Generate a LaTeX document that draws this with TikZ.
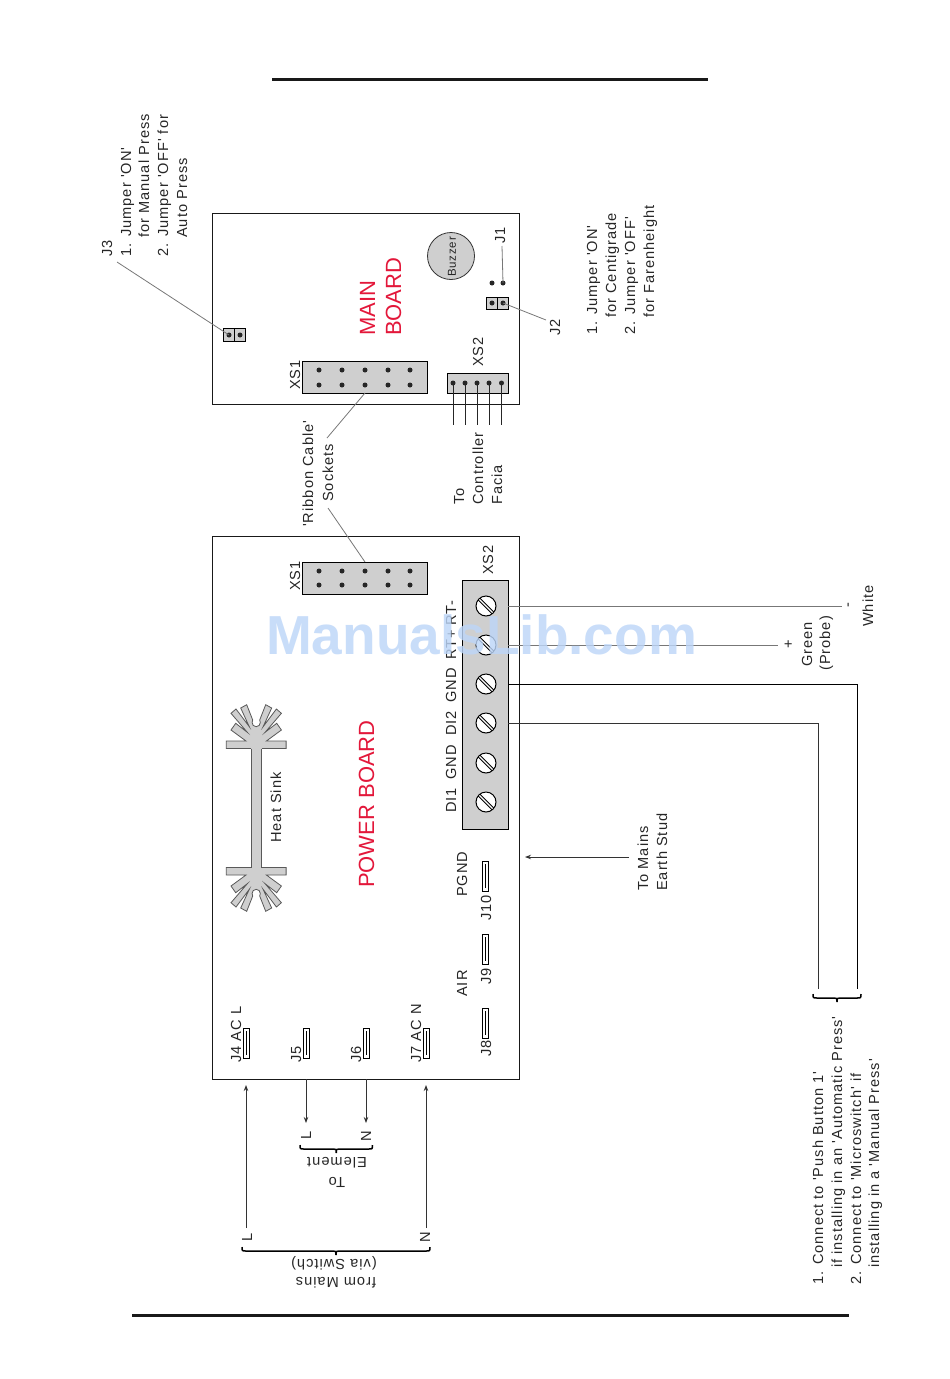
\documentclass[tikz,border=0pt]{standalone}
\usepackage{fontspec}
\setmainfont{Liberation Sans}
\newfontfamily\lsp[LetterSpace=7]{Liberation Sans}
\usetikzlibrary{arrows.meta,calc}
\definecolor{partgray}{HTML}{CFCFCF}
\definecolor{leadgray}{HTML}{777777}
\definecolor{boardred}{HTML}{E3173A}
\definecolor{wmblue}{HTML}{BDD6F8}
\tikzset{
  rt/.style={rotate=90,anchor=base west,inner sep=0pt,font=\lsp\fontsize{14.6}{17}\selectfont,text=black!85},
  rtc/.style={rotate=90,anchor=center,inner sep=0pt,font=\lsp\fontsize{14.6}{17}\selectfont,text=black!85},
  upside/.style={rotate=180,anchor=base,inner sep=0pt,font=\lsp\fontsize{14.6}{17}\selectfont,text=black!85},
  redtxt/.style={rotate=90,anchor=base west,inner sep=0pt,font=\fontsize{22}{25}\selectfont,text=boardred},
  board/.style={draw=black!90,line width=.9pt,fill=white},
  part/.style={draw=black,line width=.8pt,fill=partgray},
  pinpt/.style={circle,fill=black!85,inner sep=0pt,minimum size=5pt},
  lead/.style={draw=leadgray,line width=.8pt},
  wire/.style={draw=black!70,line width=1pt},
  arr/.style={draw=black!80,line width=.9pt,-{Stealth[length=6pt,width=4.5pt]}},
  jack/.style={draw=black,line width=.8pt,fill=white},
  screw/.style={circle,draw=black,line width=1pt,fill=white,inner sep=0pt,minimum size=20pt},
  brc/.style={draw=black,line width=1.5pt},
  sink/.style={draw=black!65,line width=.8pt,fill=partgray},
}
\newcommand{\hbr}[3]{\draw[brc] (#1,#3-4) .. controls (#1,#3) and (#1,#3) .. ({#1+4},#3) -- ({(#1+#2)/2-3},#3) .. controls ({(#1+#2)/2},#3) and ({(#1+#2)/2},#3) .. ({(#1+#2)/2},#3+4) .. controls ({(#1+#2)/2},#3) and ({(#1+#2)/2},#3) .. ({(#1+#2)/2+3},#3) -- ({#2-4},#3) .. controls (#2,#3) and (#2,#3) .. (#2,#3-4);}
\newcommand{\sinkcap}{%
  \path[sink] (-29.9,0) -- (-10.2,0) -- (-25.2,-11) -- (-20.5,-17.7) -- (-8.9,-8.7) -- (-25.2,-27.7) -- (-20.2,-32) -- (-6.9,-14.3) -- (-15.5,-33) -- (-9.5,-36.3) -- (-3.5,-21) -- (-4.1,-18.5) -- (-3,-15.6) -- (0,-14.3) -- (3,-15.6) -- (4.1,-18.5) -- (3.5,-21) -- (9.5,-36.3) -- (15.5,-33) -- (6.9,-14.3) -- (20.2,-32) -- (25.2,-27.7) -- (8.9,-8.7) -- (20.5,-17.7) -- (25.2,-11) -- (10.2,0) -- (29.9,0) -- (29.9,7.5) -- (-29.9,7.5) -- cycle;}
\begin{document}
\begin{tikzpicture}[x=1pt,y=-1pt]
\useasboundingbox (0,0) rectangle (950,1379);
% page rules
\coordinate (t1) at (272,79); \coordinate (t2) at (708,79);
\coordinate (b1) at (132,1315); \coordinate (b2) at (849,1315);
\draw[line width=3pt,black!90] (t1) -- (t2);
\draw[line width=3pt,black!90] (b1) -- (b2);
% boards
\path[board] (212,213) rectangle (519,404);
\path[board] (212,536) rectangle (519,1079);
% MAIN board parts
\node[redtxt] (mainlbl) at (375,336) {MAIN};
\node[redtxt] (boardlbl) at (401,336) {BOARD};
\node[circle,draw=black!80,line width=.8pt,fill=partgray,minimum size=47pt,inner sep=0pt] (buzz) at (451,256) {};
\node[rtc,font=\lsp\fontsize{11.5}{14}\selectfont] (buzzt) at (452,257) {Buzzer};
\path[part] (302,361) rectangle (427,393);
\path[part] (302,562) rectangle (427,594);
\foreach \px [count=\i] in {319,342,365,388,410}{
  \node[pinpt] (ma\i) at (\px,370) {};
  \node[pinpt] (mb\i) at (\px,385) {};
  \node[pinpt] (pa\i) at (\px,571) {};
  \node[pinpt] (pb\i) at (\px,585) {};
}
\node[rt] (xs1m) at (300,390) {XS1};
\node[rt] (xs1p) at (300,591) {XS1};
\path[part] (447,373) rectangle (508,393);
\node[rt] (xs2m) at (483,367) {XS2};
\foreach \px [count=\i] in {453,465,477,489,501.5}{
  \node[pinpt] (c\i) at (\px,383) {};
  \coordinate (ce\i) at (\px,425);
  \draw[line width=.9pt,black!85] (c\i.center) -- (ce\i);
}
% J1 J2 J3
\node[pinpt] (j1a) at (492,283) {};
\node[pinpt] (j1b) at (503,283) {};
\node[rt] (j1t) at (505,244) {J1};
\coordinate (j1e) at (502,246);
\draw[lead] (j1b.center) -- (j1e);
\path[part] (486,297) rectangle (508,309);
\draw[line width=.8pt] (497,297) -- (497,309);
\node[pinpt] (j2a) at (492,303) {};
\node[pinpt] (j2b) at (503,303) {};
\coordinate (j2e) at (546,320);
\draw[lead] (j2b.center) -- (j2e);
\node[rt] (j2t) at (560,336) {J2};
\path[part] (223,328) rectangle (245,341);
\draw[line width=.8pt] (234,328) -- (234,341);
\node[pinpt] (j3a) at (229,335) {};
\node[pinpt] (j3b) at (240,335) {};
\coordinate (j3e) at (117,262);
\draw[lead] (j3a.center) -- (j3e);
\node[rt] (j3t) at (112,257) {J3};
% notes top
\node[rt] (n1) at (131,257) {1. Jumper 'ON'};
\node[rt] (n2) at (149,238) {for Manual Press};
\node[rt] (n3) at (168,257) {2. Jumper 'OFF' for};
\node[rt] (n4) at (187,238) {Auto Press};
\node[rt] (n5) at (597,335) {1. Jumper 'ON'};
\node[rt] (n6) at (616,318) {for Centigrade};
\node[rt] (n7) at (635,335) {2. Jumper 'OFF'};
\node[rt] (n8) at (654,318) {for Farenheight};
% ribbon
\node[rt] (rb1) at (313,527) {'Ribbon Cable'};
\node[rt] (rb2) at (333,502) {Sockets};
\coordinate (rbm) at (327,438); \coordinate (rbp) at (328,508);
\draw[lead] (mb3.center |- 0,393) -- (rbm);
\draw[lead] (pa3.center |- 0,562) -- (rbp);
% controller
\node[rt] (c1t) at (464,505) {To};
\node[rt] (c2t) at (483,505) {Controller};
\node[rt] (c3t) at (502,505) {Facia};
% terminal strip
\path[part] (462,580) rectangle (508,829);
\coordinate (tr) at (508,0);
\node[rt] (xs2p) at (493,575) {XS2};
\foreach \py [count=\i] in {606,645,684,723,763,802}{
  \node[screw] (s\i) at (486,\py) {};
  \draw[line width=.9pt] ($(s\i)+(-6.05,-7.75)$) -- ($(s\i)+(7.75,6.05)$);
  \draw[line width=.9pt] ($(s\i)+(-7.75,-6.05)$) -- ($(s\i)+(6.05,7.75)$);
}
\node[rt] (d1) at (456,813) {DI1};
\node[rt] (g1) at (456,780) {GND};
\node[rt] (d2) at (456,736) {DI2};
\node[rt] (g2) at (456,703) {GND};
\node[rt] (rp) at (456,660) {RT+};
\node[rt] (rm) at (456,626) {RT-};
% wires
\coordinate (w1) at (842,606); \coordinate (w2) at (778,645);
\coordinate (w3) at (857,684); \coordinate (w3e) at (857,989);
\coordinate (w4) at (818,723); \coordinate (w4e) at (818,989);
\draw[wire,draw=leadgray] (tr |- s1) -- (w1);
\draw[wire,draw=leadgray] (tr |- s2) -- (w2);
\draw[wire,draw=black] (tr |- s3) -- (w3) -- (w3e);
\draw[wire,draw=black!80] (tr |- s4) -- (w4) -- (w4e);
\node[rtc] (minus) at (850,605) {-};
\node[rtc] (plus) at (789,644) {+};
\node[rt] (wh) at (873,627) {White};
\node[rt] (gr) at (812,667) {Green};
\node[rt] (pr) at (830,671) {(Probe)};
\hbr{813}{861}{998}
\node[rt] (l1) at (823,1285) {1. Connect to 'Push Button 1'};
\node[rt] (l2) at (842,1268) {if installing in an 'Automatic Press'};
\node[rt] (l3) at (861,1285) {2. Connect to 'Microswitch' if};
\node[rt] (l4) at (879,1268) {installing in a 'Manual Press'};
% heat sink
\begin{scope}[shift={(256.2,741)}]\sinkcap\end{scope}
\begin{scope}[shift={(256.2,875)},yscale=-1]\sinkcap\end{scope}
\fill[partgray] (251,747) rectangle (261.6,869);
\draw[black!65,line width=.8pt] (251,748.5) -- (251,867.5) (261.6,748.5) -- (261.6,867.5);
\node[rt] (hs) at (281,843) {Heat Sink};
\node[redtxt] (pb) at (374,888) {POWER BOARD};
% jacks
\foreach \nm/\xa/\ya in {j4/243/1028,j5/303/1028,j6/363/1028,j7/423/1028,j8/482/1008,j9/482/934,j10/482/861}{
  \path[jack] (\xa,\ya) rectangle (\xa+6.5,\ya+30);
  \draw[line width=.6pt] (\xa+3.2,\ya+3) -- (\xa+3.2,\ya+27);
}
\node[rt] (tj4) at (241,1063) {J4 AC L};
\node[rt] (tj5) at (301,1063) {J5};
\node[rt] (tj6) at (361,1063) {J6};
\node[rt] (tj7) at (421,1063) {J7 AC N};
\node[rt] (tj8) at (491,1057) {J8};
\node[rt] (tj9) at (491,985) {J9};
\node[rt] (tj10) at (491,921) {J10};
\node[rt] (tpg) at (467,897) {PGND};
\node[rt] (tair) at (467,997) {AIR};
% earth
\coordinate (ea) at (629,857); \coordinate (eb) at (525,857);
\draw[arr] (ea) -- (eb);
\node[rt] (e1) at (648,891) {To Mains};
\node[rt] (e2) at (667,891) {Earth Stud};
% arrows below
\coordinate (la) at (246,1228); \coordinate (lb) at (246,1085);
\coordinate (na) at (426,1228); \coordinate (nb) at (426,1085);
\coordinate (ea1) at (306,1079); \coordinate (eb1) at (306,1123);
\coordinate (ea2) at (366,1079); \coordinate (eb2) at (366,1123);
\draw[arr] (la) -- (lb);
\draw[arr] (na) -- (nb);
\draw[arr] (ea1) -- (eb1);
\draw[arr] (ea2) -- (eb2);
\node[rtc] (ll) at (247,1237) {L};
\node[rtc] (nn) at (425,1237) {N};
\node[rtc] (ell) at (306,1135) {L};
\node[rtc] (enn) at (366,1136) {N};
\hbr{300}{372.5}{1149}
\hbr{242}{430}{1251}
\node[upside] (el) at (337,1157) {Element};
\node[upside] (to) at (337,1177) {To};
\node[upside] (vs) at (334,1259) {(via Switch)};
\node[upside] (fm) at (336,1277) {from Mains};
% watermark
\node[anchor=base,inner sep=0pt,opacity=.82,text=wmblue,font=\bfseries\fontsize{55}{60}\selectfont] (wm) at (481.5,654) {ManualsLib.com};
\end{tikzpicture}
\end{document}
